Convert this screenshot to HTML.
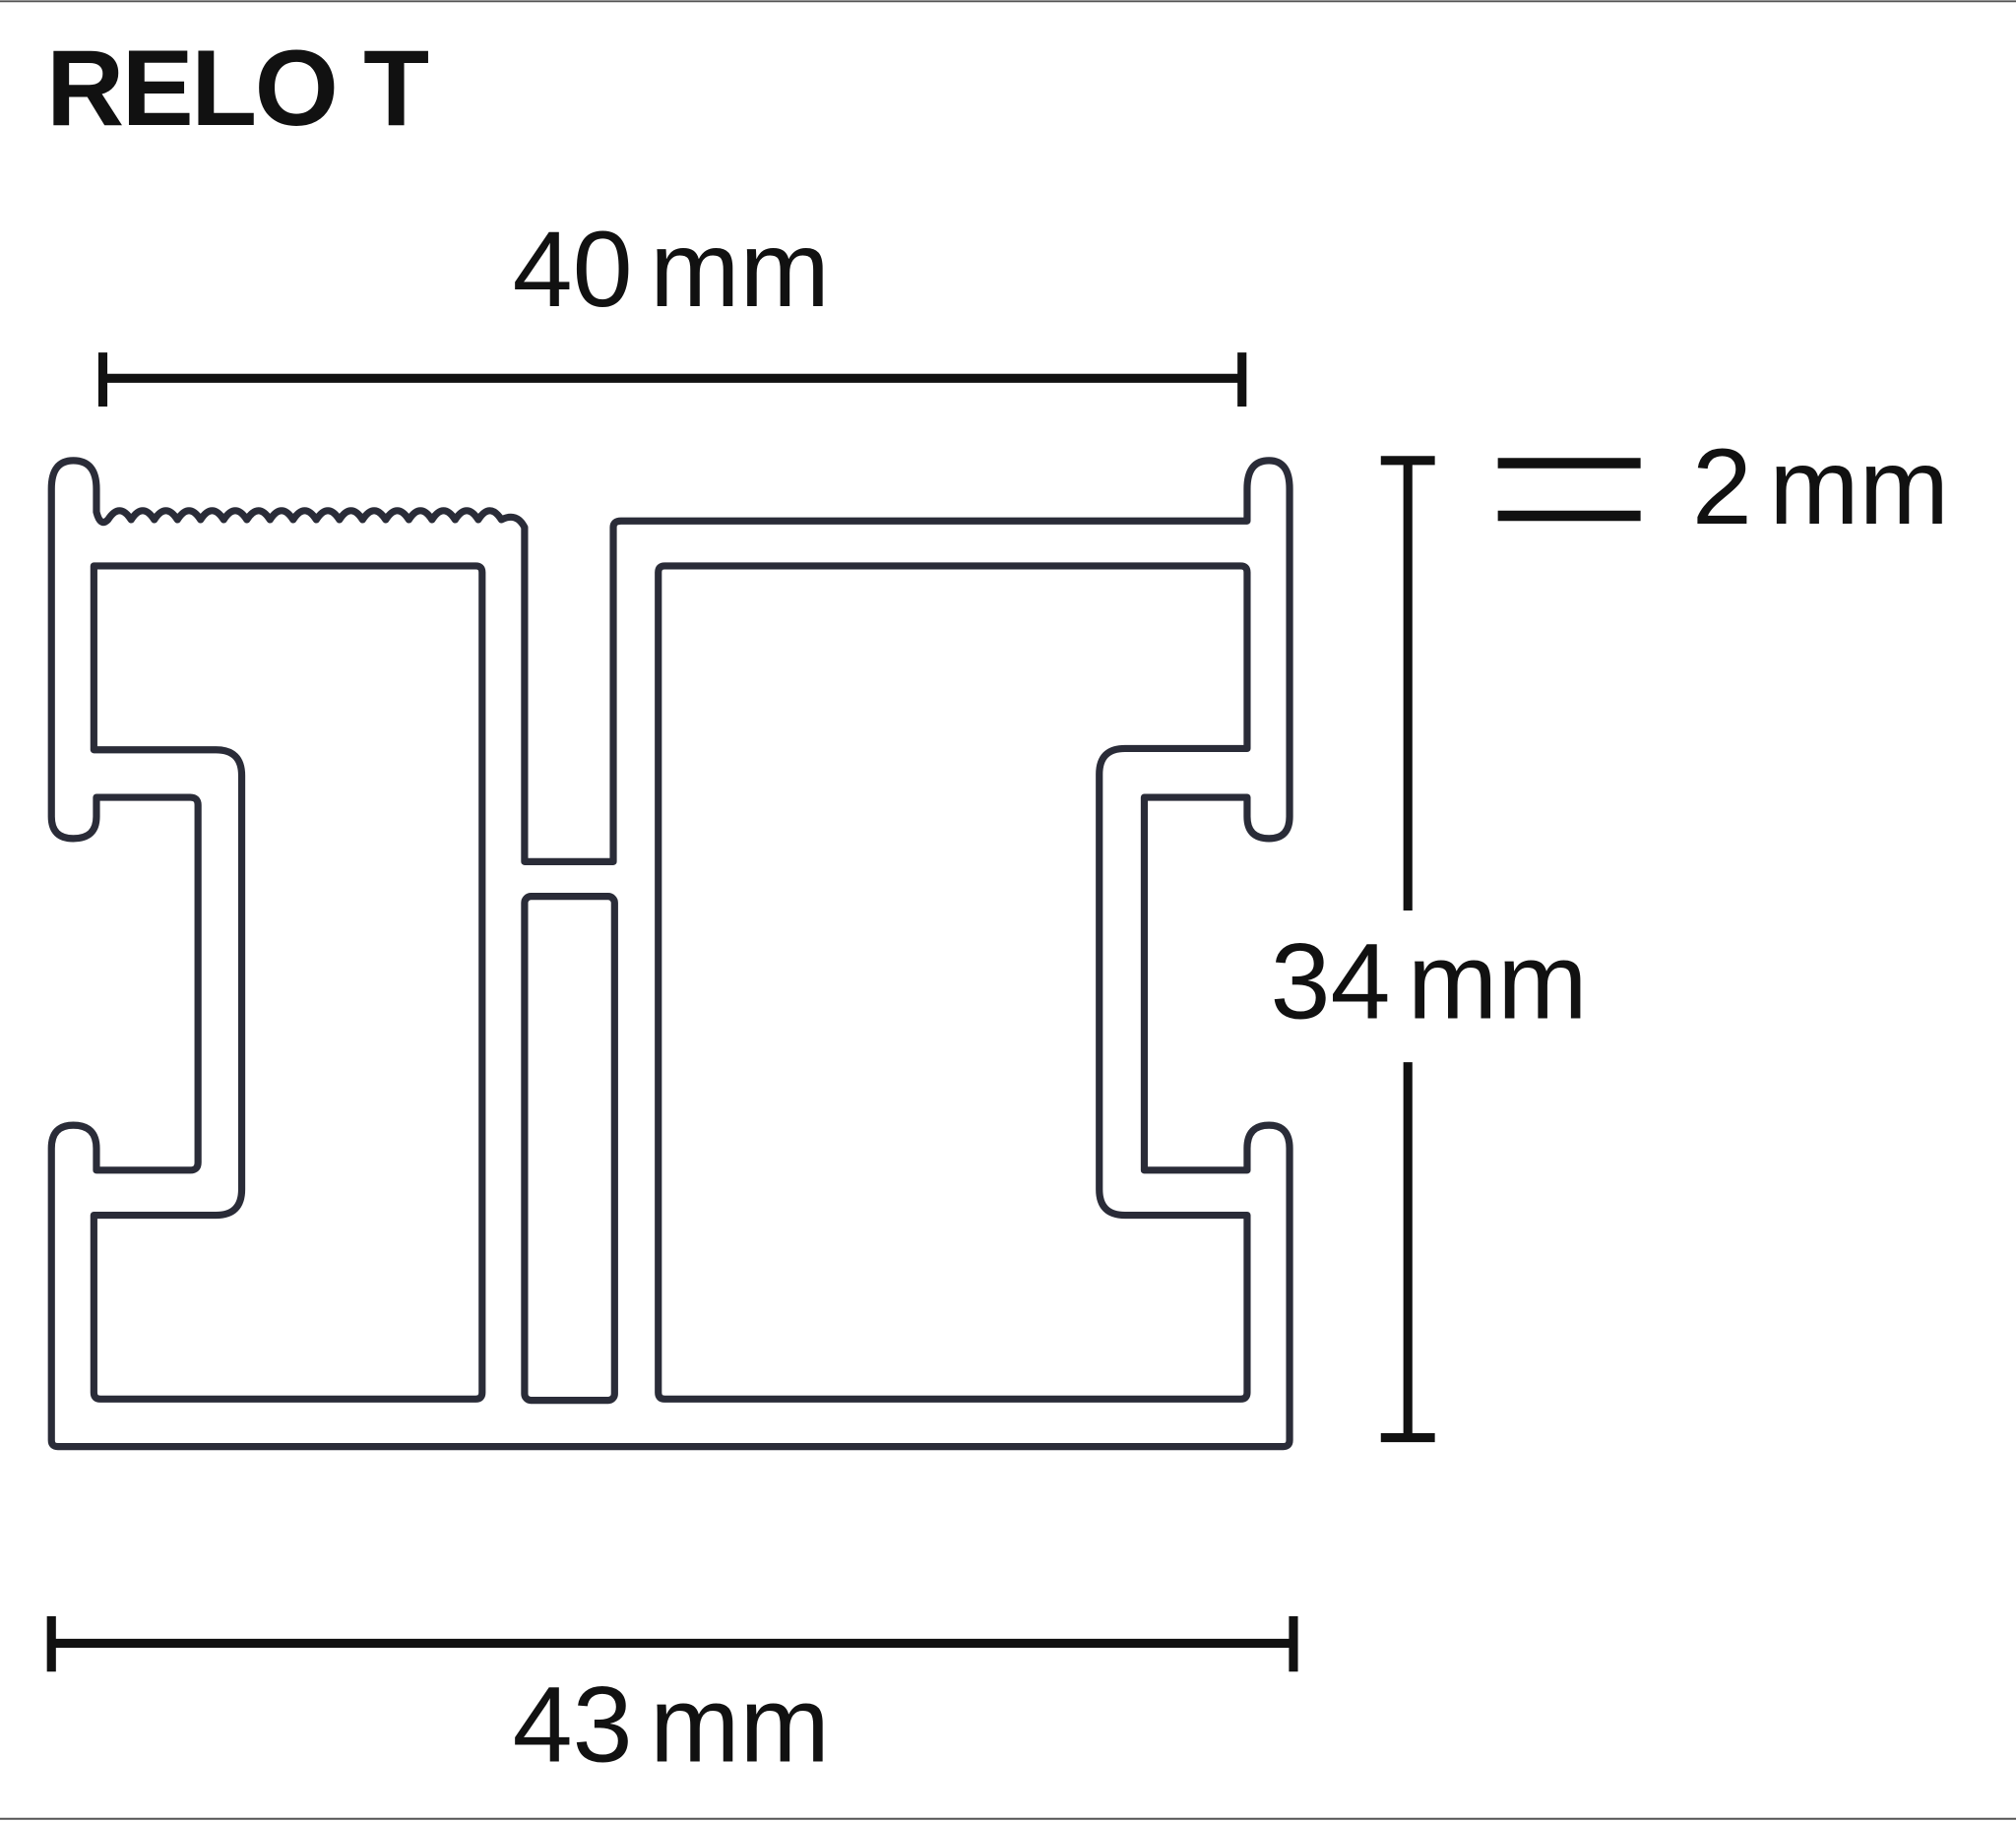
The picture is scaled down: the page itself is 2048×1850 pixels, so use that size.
<!DOCTYPE html>
<html><head><meta charset="utf-8"><style>
html,body{margin:0;padding:0;background:#fff;}
svg{display:block}
text{font-family:"Liberation Sans",sans-serif;fill:#111;}
</style></head><body>
<svg width="2048" height="1850" viewBox="0 0 1568 1416" xmlns="http://www.w3.org/2000/svg">
<rect width="1568" height="1416" fill="#fff"/>
<line x1="0" y1="0.8" x2="1568" y2="0.8" stroke="#555" stroke-width="1.5"/>
<line x1="0" y1="1414.5" x2="1568" y2="1414.5" stroke="#555" stroke-width="1.5"/>
<text x="36" y="97" font-size="84" font-weight="bold" letter-spacing="-2">RELO T</text>
<text x="522" y="238" font-size="84" text-anchor="middle" word-spacing="-10">40 mm</text>
<text x="988" y="792" font-size="84" word-spacing="-10">34 mm</text>
<text x="1316" y="407" font-size="84" word-spacing="-10">2 mm</text>
<text x="522" y="1370" font-size="84" text-anchor="middle" word-spacing="-10">43 mm</text>
<g stroke="#111" stroke-width="7" fill="none">
<path d="M80 294H966M80 274V316M966 274V316"/>
<path d="M1095 358V708M1095 826V1118M1074 358H1116M1074 1118H1116"/>
<path d="M1165 360H1276M1165 401H1276" stroke-width="8"/>
<path d="M40 1278H1006M40 1257V1300M1006 1257V1300"/>
</g>
<g stroke="#2a2c38" stroke-width="5.5" fill="none" stroke-linejoin="round">
<path d="M40 380 Q40 358 57 358 Q75 358 75 380 V398 Q78 410 84 404
q9 -14 18 0 q9 -14 18 0 q9 -14 18 0 q9 -14 18 0 q9 -14 18 0 q9 -14 18 0
q9 -14 18 0 q9 -14 18 0 q9 -14 18 0 q9 -14 18 0 q9 -14 18 0 q9 -14 18 0
q9 -14 18 0 q9 -14 18 0 q9 -14 18 0 q9 -14 18 0 q9 -14 18 0
Q402 398 408 410 V670 H477 V410 Q477 405 483 405 H970 V380 Q970 358 987 358 Q1003 358 1003 380 V635 Q1003 652 987 652 Q970 652 970 635 V620 H890 V910 H970 V893 Q970 875 987 875 Q1003 875 1003 893 V1120 Q1003 1125 998 1125 H45 Q40 1125 40 1120 V893 Q40 875 57 875 Q75 875 75 893 V910 H148 Q154 910 154 904 V626 Q154 620 148 620 H75 V635 Q75 652 57 652 Q40 652 40 635 Z"/>
<path d="M73 440 H370 Q375 440 375 445 V1083 Q375 1088 370 1088 H78 Q73 1088 73 1083 V945 H168 Q188 945 188 925 V603 Q188 583 168 583 H73 Z"/>
<path d="M517 440 H965 Q970 440 970 445 V582 H875 Q855 582 855 602 V925 Q855 945 875 945 H970 V1083 Q970 1088 965 1088 H517 Q512 1088 512 1083 V445 Q512 440 517 440 Z"/>
<rect x="408" y="697" width="70" height="392" rx="5"/>
</g>
</svg>
</body></html>
